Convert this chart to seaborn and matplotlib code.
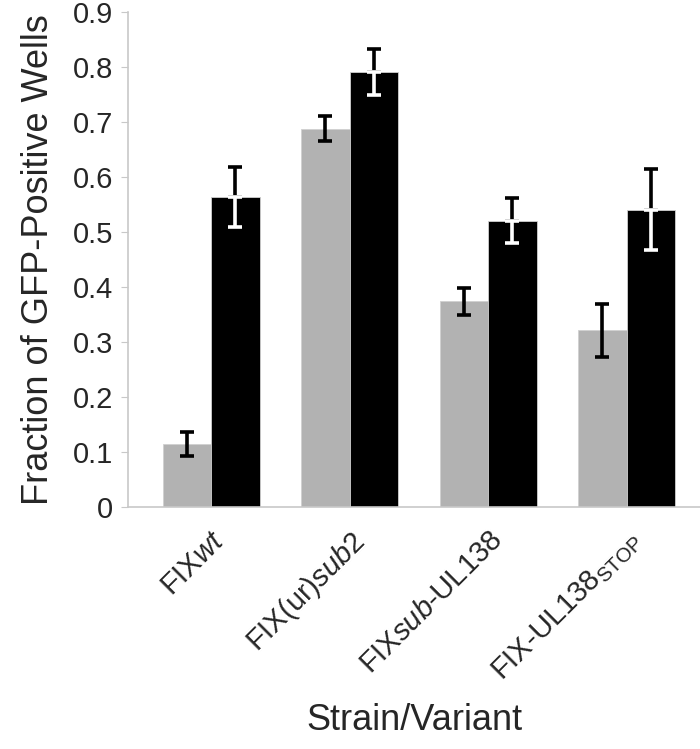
import pandas as pd
import matplotlib.pyplot as plt
import seaborn as sns

strains = ['FIX$\\mathit{wt}$', 'FIX(ur)$\\mathit{sub}$2', 'FIX$\\mathit{sub}$-UL138', 'FIX-UL138$_{\\mathrm{STOP}}$']
gray_vals = [0.114, 0.688, 0.374, 0.321]
gray_err = [0.022, 0.023, 0.025, 0.048]
black_vals = [0.564, 0.792, 0.521, 0.541]
black_err = [0.055, 0.042, 0.041, 0.074]

sns.set_style('white')
plt.rcParams['font.family'] = ['Liberation Sans', 'DejaVu Sans']
plt.rcParams['mathtext.fontset'] = 'custom'
plt.rcParams['mathtext.rm'] = 'Liberation Sans'
plt.rcParams['mathtext.it'] = 'Liberation Sans:italic'

df = pd.DataFrame({
    'strain': strains * 2,
    'group': ['gray'] * 4 + ['black'] * 4,
    'value': gray_vals + black_vals,
})

fig = plt.figure(figsize=(7, 7.49), dpi=100)
ax = fig.add_axes([0.183, 0.3235, 0.817, 0.66])

sns.barplot(data=df, x='strain', y='value', hue='group', palette=['#b2b2b2', '#000000'],
            errorbar=None, width=0.7, gap=0, legend=False, ax=ax, edgecolor='#d0d0d0', linewidth=0.6)

# error bars: black on gray bars; on black bars the part above is black, inside is white
ekw = dict(fmt='none', elinewidth=2.6, capsize=5, capthick=2.6)
for i, (cont, errs) in enumerate(zip(ax.containers, [gray_err, black_err])):
    xs = [p.get_x() + p.get_width() / 2 for p in cont]
    ys = [p.get_height() for p in cont]
    zeros = [0] * len(errs)
    if i == 0:
        ax.errorbar(xs, ys, yerr=errs, ecolor='black', **ekw)
    else:
        ax.errorbar(xs, ys, yerr=[zeros, errs], ecolor='black', **ekw)
        ax.errorbar(xs, ys, yerr=[errs, zeros], ecolor='white', **ekw)

ax.set_ylim(0, 0.9)
ax.set_xlim(-0.6, 3.53)
ax.set_yticks([0, 0.1, 0.2, 0.3, 0.4, 0.5, 0.6, 0.7, 0.8, 0.9])
ax.set_yticklabels(['0', '0.1', '0.2', '0.3', '0.4', '0.5', '0.6', '0.7', '0.8', '0.9'])
ax.tick_params(axis='y', labelsize=21, length=5, color='#c8c8c8', left=True, pad=6)
ax.tick_params(axis='x', length=0, labelsize=21, pad=14)
plt.setp(ax.get_xticklabels(), rotation=45, ha='right', rotation_mode='anchor')

for s in ['top', 'right']:
    ax.spines[s].set_visible(False)
ax.spines['left'].set_color('#c8c8c8')
ax.spines['bottom'].set_color('#c8c8c8')
ax.spines['left'].set_linewidth(1.2)
ax.spines['bottom'].set_linewidth(1.2)

ax.set_ylabel('Fraction of GFP-Positive Wells', fontsize=26, labelpad=12)
ax.set_xlabel('Strain/Variant', fontsize=26, labelpad=12)

plt.savefig('out.png', dpi=100)
